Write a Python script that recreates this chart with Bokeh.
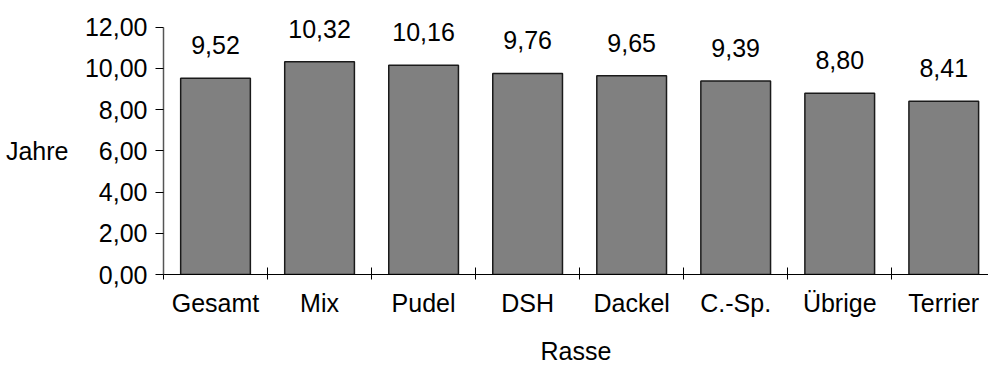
from bokeh.plotting import figure
from bokeh.models import ColumnDataSource, FixedTicker, LabelSet, Range1d, LinearAxis
from bokeh.core.properties import value
from bokeh.embed import file_html
from bokeh.resources import INLINE

# Mean age per breed group
rassen = ["Gesamt", "Mix", "Pudel", "DSH", "Dackel", "C.-Sp.", "Übrige", "Terrier"]
jahre = [9.52, 10.32, 10.16, 9.76, 9.65, 9.39, 8.80, 8.41]
y_ticks = [0, 2, 4, 6, 8, 10, 12]

FONT = "Liberation Sans"
SIZE = "25px"


def de(v):
    """German decimal format with two places."""
    return f"{v:.2f}".replace(".", ",")


centers = [i + 0.5 for i in range(len(rassen))]
bounds = list(range(len(rassen) + 1))

src = ColumnDataSource(dict(x=centers, top=jahre, label=[de(v) for v in jahre]))

p = figure(
    width=988, height=367,
    output_backend="svg", toolbar_location=None,
    x_range=Range1d(0, 7.93), y_range=Range1d(0, 13.2),
    min_border_left=163, min_border_right=0,
    min_border_top=2, min_border_bottom=93,
)
p.background_fill_color = "white"
p.border_fill_color = "white"
p.outline_line_color = None
p.xgrid.grid_line_color = None
p.ygrid.grid_line_color = None

p.vbar(x="x", top="top", bottom=0, width=0.67, source=src,
       fill_color="#808080", line_color="#1a1a1a", line_width=1.5)

p.add_layout(LabelSet(x="x", y="top", text="label", source=src,
                      y_offset=24, text_align="center", text_baseline="alphabetic",
                      text_font=value(FONT), text_font_size=value(SIZE),
                      text_color="black"))

# x axis: names under bar centres, separator ticks between groups
xa = p.xaxis[0]
xa.ticker = FixedTicker(ticks=centers, minor_ticks=bounds)
xa.major_label_overrides = {c: r for c, r in zip(centers, rassen)}
xa.major_tick_in = 0
xa.major_tick_out = 0
xa.minor_tick_in = 7
xa.minor_tick_out = 5
xa.minor_tick_line_color = "black"
xa.axis_line_color = "black"
xa.major_label_standoff = 9
xa.major_label_text_font = FONT
xa.major_label_text_font_size = SIZE
xa.major_label_text_color = "black"
xa.axis_label = "Rasse"
xa.axis_label_text_font = FONT
xa.axis_label_text_font_size = SIZE
xa.axis_label_text_font_style = "normal"
xa.axis_label_text_color = "black"
xa.axis_label_standoff = 17

ya = p.yaxis[0]
ya.ticker = FixedTicker(ticks=y_ticks, minor_ticks=[])
ya.bounds = (0, 12)
ya.major_label_overrides = {t: de(t) for t in y_ticks}
ya.major_tick_in = 0
ya.major_tick_out = 8
ya.minor_tick_in = 0
ya.minor_tick_out = 0
ya.major_tick_line_color = "black"
ya.axis_line_color = "#555555"
ya.axis_line_width = 1.5
ya.major_label_standoff = 8
ya.major_label_text_font = FONT
ya.major_label_text_font_size = SIZE
ya.major_label_text_color = "black"

# "Jahre" sits level with the 6,00 tick, left of the value labels
name_axis = LinearAxis(ticker=FixedTicker(ticks=[6], minor_ticks=[]),
                       major_label_overrides={6: "Jahre"})
name_axis.axis_line_color = None
name_axis.major_tick_in = 0
name_axis.major_tick_out = 0
name_axis.minor_tick_in = 0
name_axis.minor_tick_out = 0
name_axis.major_label_standoff = 13
name_axis.major_label_text_font = FONT
name_axis.major_label_text_font_size = SIZE
name_axis.major_label_text_color = "black"
p.add_layout(name_axis, "left")

open("out.html", "w").write(file_html(p, INLINE))
